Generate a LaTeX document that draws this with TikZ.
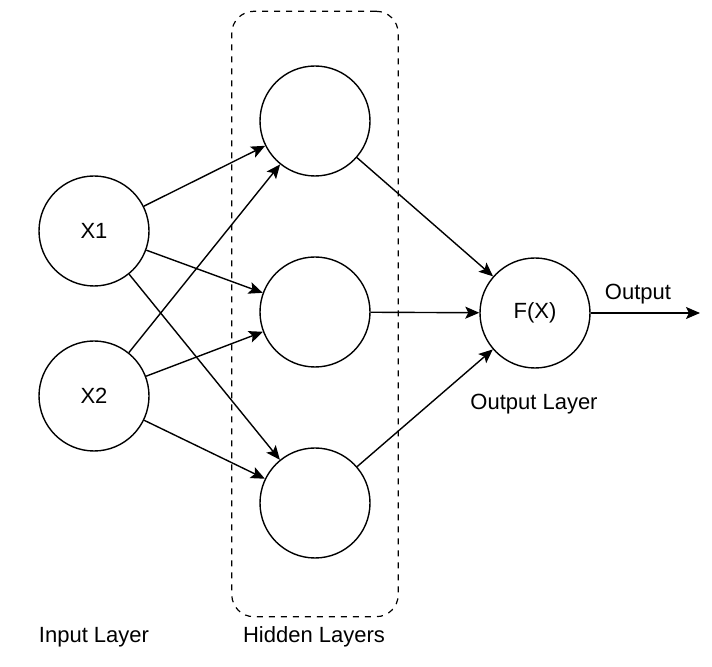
\documentclass[tikz,border=0pt]{standalone}
\usepackage{fontspec}
\setmainfont{Liberation Sans}
\usetikzlibrary{arrows.meta,positioning,fit}

\begin{document}
\begin{tikzpicture}[x=0.5pt, y=-0.5pt, font=\fontsize{11}{13}\selectfont]
\tikzset{neuron/.style={circle, draw, line width=0.7pt, minimum size=55pt, inner sep=0pt}}
\tikzset{hidbox/.style={draw, dashed, line width=0.6pt, rounded corners=11pt, inner xsep=13.75pt, inner ysep=28pt}}
\tikzset{label/.style={inner sep=1pt}}
\tikzstyle{link} = [draw, line width=0.7pt, -{Stealth[length=7pt, width=6pt, inset=1.5pt]}]

\useasboundingbox (0,0) rectangle (712,667);

% input layer
\node [neuron] (x1) at (94,231) {X1};
\node [neuron, below=82.5pt of x1.center, anchor=center] (x2) {X2};

% hidden layers
\node [neuron] (h1) at (315,121) {};
\node [neuron, below=95.5pt of h1.center, anchor=center] (h2) {};
\node [neuron, below=95.5pt of h2.center, anchor=center] (h3) {};
\node [hidbox, fit=(h1)(h3), yshift=-1pt] (hid) {};

% output layer
\node [neuron] (f) at (535,313) {F(X)};
\coordinate (out) at (700,313);

\path [link] (x1) -- (h1);
\path [link] (x1) -- (h2);
\path [link] (x1) -- (h3);
\path [link] (x2) -- (h1);
\path [link] (x2) -- (h2);
\path [link] (x2) -- (h3);

\path [link] (h1) -- (f);
\path [link] (h2) -- (f);
\path [link] (h3) -- (f);
\path [link] (f) -- (out);

\node [label] (outtxt) at (638,294) {Output};
\node [label] (outlay) at (534,404) {Output Layer};
\node [label] (inlay) at (94,637) {Input Layer};
\node [label] (hidlay) at (314,637) {Hidden Layers};
\end{tikzpicture}
\end{document}
